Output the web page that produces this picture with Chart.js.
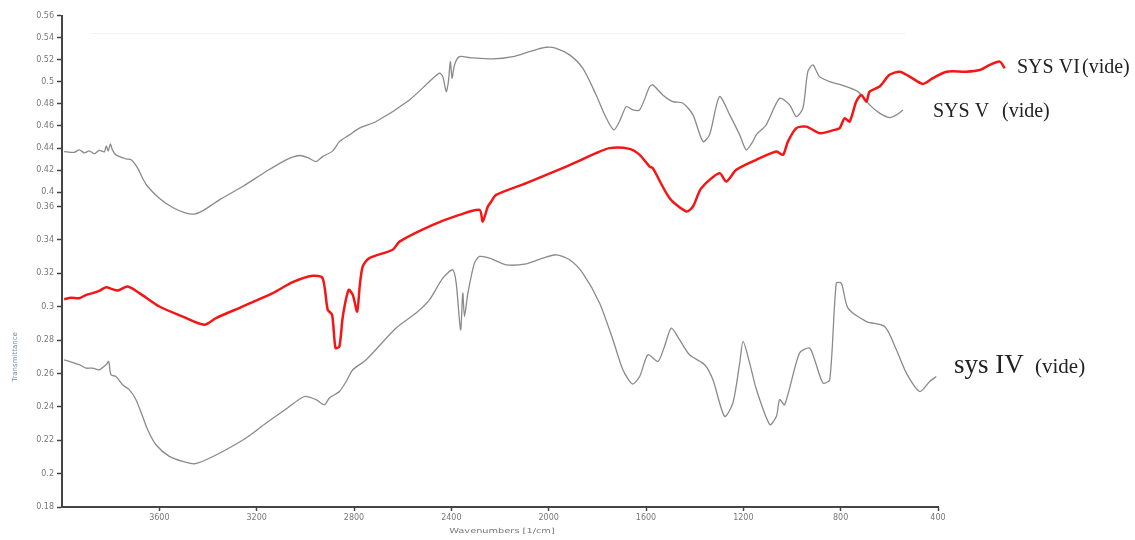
<!DOCTYPE html>
<html>
<head>
<meta charset="utf-8">
<script src="https://cdn.jsdelivr.net/npm/chart.js@4.4.1/dist/chart.umd.min.js"></script>
<style>
  html, body { margin: 0; padding: 0; background: #ffffff; }
  #wrap { width: 1135px; height: 540px; position: relative; }
</style>
</head>
<body>
<div id="wrap"><canvas id="c" width="1135" height="540"></canvas></div>
<script>
// ---------- DATA ----------
const xTickValues = [3600, 3200, 2800, 2400, 2000, 1600, 1200, 800, 400];
const yTickValues = [0.18, 0.2, 0.22, 0.24, 0.26, 0.28, 0.3, 0.32, 0.34, 0.36,
                     0.4, 0.42, 0.44, 0.46, 0.48, 0.5, 0.52, 0.54, 0.56];
const yTickLabels = ["0.18","0.2","0.22","0.24","0.26","0.28","0.3","0.32","0.34","0.36",
                     "0.4","0.42","0.44","0.46","0.48","0.5","0.52","0.54","0.56"];

const seriesNames = ["SYS VI (vide)", "SYS V (vide)", "sys IV (vide)"];

// SYS VI (red)
const sysVI_wn = [3991,3962,3929,3900,3874,3847,3819,3797,3771,3730,3682,3600,3504,3415,3367,3258,3134,3052,2970,2929,2908,2890,2876,2860,2846,2822,2805,2787,2776,2764,2737,2641,2613,2476,2367,2284,2271,2250,2236,2216,2092,1928,1805,1750,1668,1626,1585,1572,1503,1434,1407,1373,1298,1270,1229,1147,1064,1037,1017,982,941,886,825,804,784,763,736,715,694,681,640,599,557,516,462,421,365,283,229,187,146,126];
const sysVI_val = [0.3045,0.3053,0.3051,0.3071,0.3081,0.3095,0.3117,0.3107,0.3097,0.3121,0.3081,0.3001,0.2941,0.2892,0.2932,0.3001,0.3081,0.3147,0.3185,0.3171,0.2981,0.2952,0.2752,0.2762,0.2941,0.3101,0.3071,0.2971,0.3131,0.3241,0.3291,0.3341,0.3390,0.3490,0.3550,0.3580,0.3510,0.3600,0.3739,0.3925,0.4082,0.4232,0.4353,0.4399,0.4392,0.4338,0.4232,0.4217,0.3833,0.3570,0.3600,0.4036,0.4172,0.4096,0.4202,0.4293,0.4368,0.4338,0.4458,0.4580,0.4594,0.4534,0.4564,0.4580,0.4670,0.4640,0.4821,0.4881,0.4821,0.4911,0.4957,0.5063,0.5092,0.5047,0.4981,0.5033,0.5092,0.5092,0.5107,0.5153,0.5183,0.5123];

// SYS V (upper grey)
const sysV_wn = [3991,3950,3929,3908,3888,3867,3847,3826,3818,3810,3801,3793,3778,3737,3716,3689,3669,3648,3600,3545,3490,3456,3422,3353,3258,3161,3079,3024,2990,2956,2929,2887,2860,2819,2778,2709,2572,2490,2449,2435,2421,2412,2404,2397,2387,2367,2325,2230,2147,2079,2010,1969,1914,1860,1805,1763,1732,1709,1681,1654,1626,1585,1572,1531,1490,1448,1407,1366,1339,1298,1256,1215,1188,1161,1147,1106,1051,1010,982,955,935,914,887,845,777,729,681,640,599,571,544];
const sysV_val = [0.4368,0.4361,0.4383,0.4356,0.4374,0.4347,0.4379,0.4365,0.4419,0.4374,0.4437,0.4383,0.4338,0.4302,0.4293,0.4217,0.4127,0.4051,0.3833,0.3594,0.3560,0.3555,0.3574,0.3786,0.4051,0.4187,0.4293,0.4332,0.4313,0.4277,0.4322,0.4374,0.4458,0.4519,0.4580,0.4640,0.4836,0.5002,0.5078,0.5047,0.4911,0.5002,0.5183,0.5033,0.5153,0.5228,0.5219,0.5207,0.5228,0.5274,0.5313,0.5304,0.5244,0.5123,0.4881,0.4670,0.4564,0.4640,0.4775,0.4745,0.4745,0.4957,0.4972,0.4881,0.4821,0.4806,0.4700,0.4458,0.4519,0.4866,0.4700,0.4519,0.4383,0.4458,0.4519,0.4610,0.4851,0.4791,0.4685,0.4761,0.5092,0.5153,0.5047,0.5002,0.4957,0.4911,0.4791,0.4716,0.4676,0.4700,0.4745];

// sys IV (lower grey)
const sysIV_wn = [3991,3929,3901,3874,3847,3819,3808,3799,3778,3751,3723,3696,3669,3648,3614,3559,3504,3456,3408,3326,3244,3161,3079,3004,2956,2922,2901,2860,2832,2805,2750,2627,2545,2490,2435,2394,2380,2362,2353,2346,2332,2305,2284,2243,2175,2092,2024,1969,1914,1860,1791,1736,1695,1656,1626,1592,1551,1524,1496,1462,1421,1359,1325,1277,1243,1215,1201,1174,1146,1091,1064,1051,1030,969,928,907,873,845,818,797,770,694,619,571,530,475,434,407];
const sysIV_val = [0.2682,0.2653,0.2632,0.2632,0.2622,0.2652,0.2672,0.2592,0.2582,0.2532,0.2502,0.2443,0.2343,0.2263,0.2173,0.2103,0.2073,0.2059,0.2083,0.2143,0.2213,0.2303,0.2387,0.2462,0.2443,0.2413,0.2453,0.2492,0.2552,0.2622,0.2682,0.2872,0.2962,0.3041,0.3171,0.3221,0.3141,0.2861,0.3081,0.2941,0.3081,0.3261,0.3301,0.3291,0.3251,0.3257,0.3291,0.3311,0.3281,0.3201,0.3022,0.2802,0.2622,0.2537,0.2582,0.2712,0.2672,0.2762,0.2872,0.2802,0.2712,0.2652,0.2562,0.2343,0.2423,0.2662,0.2792,0.2662,0.2502,0.2293,0.2343,0.2443,0.2413,0.2722,0.2752,0.2682,0.2543,0.2562,0.3141,0.3141,0.2992,0.2911,0.2881,0.2742,0.2602,0.2492,0.2552,0.2582];

// ---------- broken (spliced) y axis: map axis-label values to a linear internal scale ----------
const GAP_RATIO = 0.2156;   // 0.36 -> 0.40 section is compressed
const UPPER_RATIO = 0.661;  // upper section (0.40 .. 0.56) scale relative to lower section
function toAxis(v) {
  if (v <= 0.36) return v;
  if (v < 0.4) return 0.36 + (v - 0.36) * GAP_RATIO;
  return 0.36 + 0.04 * GAP_RATIO + (v - 0.4) * UPPER_RATIO;
}
function pts(wn, val) { return wn.map((w, i) => ({ x: w, y: toAxis(val[i]) })); }

const textPlugin = {
  id: 'texts',
  beforeDatasetsDraw(chart) {
    const ctx = chart.ctx;
    ctx.save();
    ctx.strokeStyle = '#f0f0f0';
    ctx.lineWidth = 1;
    ctx.beginPath();
    ctx.moveTo(90, 33.5);
    ctx.lineTo(905, 33.5);
    ctx.stroke();
    ctx.restore();
  },
  afterDatasetsDraw(chart) {
    const ctx = chart.ctx;
    const ca = chart.chartArea;
    const xs = chart.scales.x;
    ctx.save();
    // x axis line (only up to 400)
    ctx.strokeStyle = '#454545';
    ctx.lineWidth = 2;
    ctx.beginPath();
    ctx.moveTo(ca.left - 1, ca.bottom);
    ctx.lineTo(xs.getPixelForValue(400) + 1, ca.bottom);
    ctx.stroke();

    // axis titles
    ctx.fillStyle = '#777';
    ctx.font = '7px "DejaVu Sans", sans-serif';
    ctx.textAlign = 'center';
    ctx.textBaseline = 'middle';
    ctx.save();
    ctx.translate(502, 531);
    ctx.scale(1.4, 1);
    ctx.fillText('Wavenumbers [1/cm]', 0, 0);
    ctx.restore();
    ctx.save();
    ctx.translate(15, 357);
    ctx.rotate(-Math.PI / 2);
    ctx.fillStyle = '#7088a8';
    ctx.fillText('Transmittance', 0, 0);
    ctx.restore();

    // series labels
    ctx.fillStyle = '#222';
    ctx.textAlign = 'left';
    ctx.textBaseline = 'alphabetic';
    ctx.font = '20px "Liberation Serif", "Times New Roman", serif';
    ctx.fillText('SYS VI', 1017, 73);
    ctx.fillText('(vide)', 1082, 73);
    ctx.fillText('SYS V', 933, 117);
    ctx.fillText('(vide)', 1002, 117);
    ctx.font = '27px "Liberation Serif", "Times New Roman", serif';
    ctx.fillText('sys IV', 954, 373);
    ctx.font = '21px "Liberation Serif", "Times New Roman", serif';
    ctx.fillText('(vide)', 1035, 373);
    ctx.restore();
  }
};

new Chart(document.getElementById('c'), {
  type: 'line',
  data: {
    datasets: [
      { label: seriesNames[0], data: pts(sysVI_wn, sysVI_val), borderColor: '#f51515', borderWidth: 2.5, pointRadius: 0, tension: 0.25, fill: false },
      { label: seriesNames[1], data: pts(sysV_wn, sysV_val), borderColor: '#8a8a8a', borderWidth: 1.3, pointRadius: 0, tension: 0.25, fill: false },
      { label: seriesNames[2], data: pts(sysIV_wn, sysIV_val), borderColor: '#8a8a8a', borderWidth: 1.3, pointRadius: 0, tension: 0.25, fill: false }
    ]
  },
  options: {
    responsive: false,
    animation: false,
    layout: { padding: { top: 15.6, right: 124, bottom: 0, left: 0 } },
    plugins: { legend: { display: false }, tooltip: { enabled: false }, title: { display: false } },
    scales: {
      x: {
        type: 'linear',
        reverse: true,
        min: 100,
        max: 4000,
        afterBuildTicks: (s) => { s.ticks = xTickValues.map(v => ({ value: v })); },
        afterFit: (s) => { s.height = 33; },
        ticks: { autoSkip: false, maxRotation: 0, color: '#777', font: { size: 8, family: '"DejaVu Sans", sans-serif' }, padding: 2,
                 callback: (v) => String(v) },
        grid: { drawOnChartArea: false, drawTicks: true, tickLength: 4, color: '#444', tickWidth: 1.5 },
        border: { display: false }
      },
      y: {
        type: 'linear',
        min: toAxis(0.18),
        max: toAxis(0.56),
        afterBuildTicks: (s) => { s.ticks = yTickValues.map(v => ({ value: toAxis(v) })); },
        afterFit: (s) => { s.width = 62; },
        ticks: { autoSkip: false, color: '#777', font: { size: 8, family: '"DejaVu Sans", sans-serif' }, padding: 3,
                 callback: (v, i) => yTickLabels[i] },
        grid: { drawOnChartArea: false, drawTicks: true, tickLength: 5, color: '#444', tickWidth: 1.5 },
        border: { display: true, color: '#454545', width: 2 }
      }
    }
  },
  plugins: [textPlugin]
});
</script>
</body>
</html>
